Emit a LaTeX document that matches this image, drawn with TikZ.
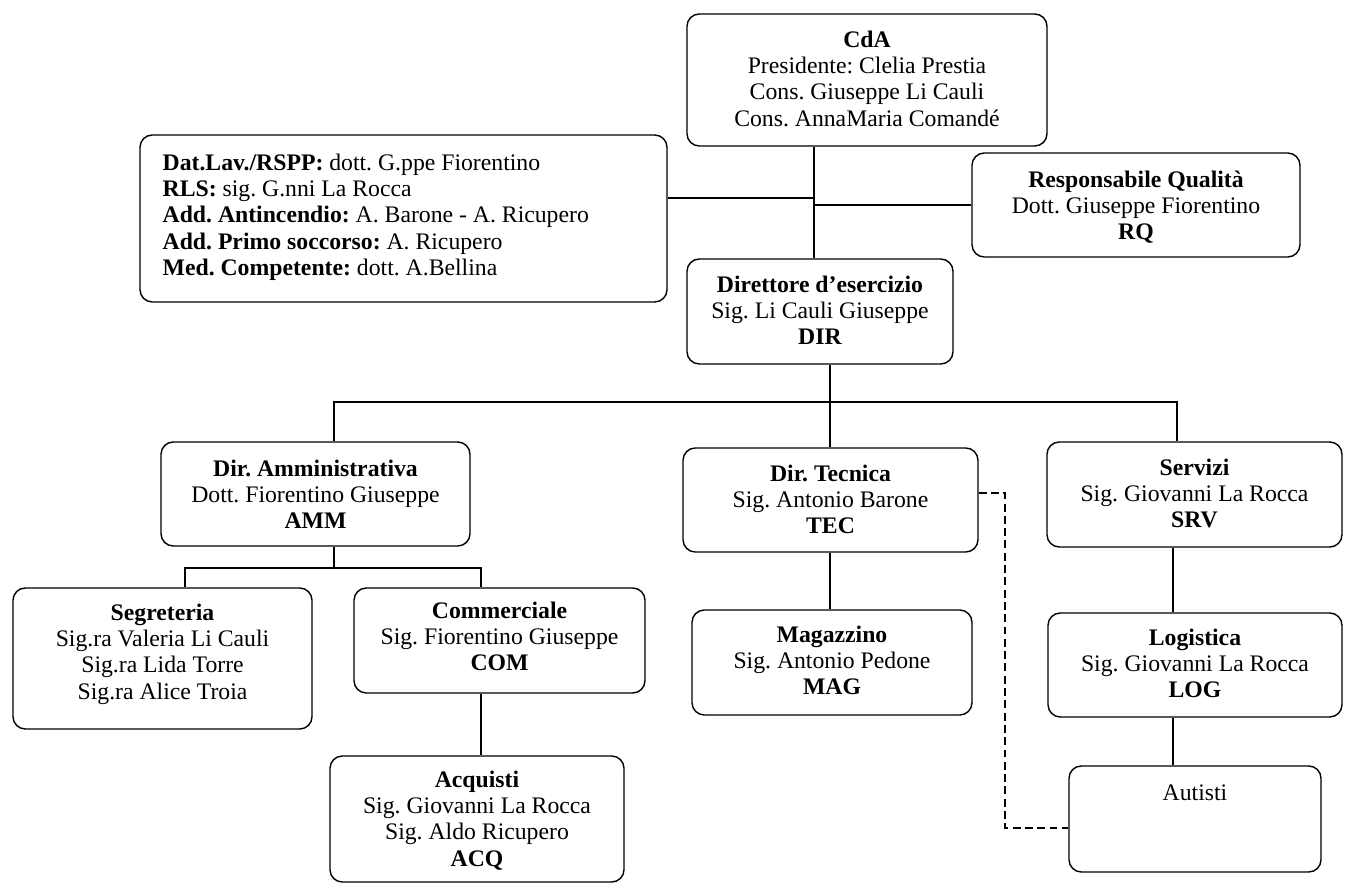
\documentclass[tikz,border=0pt]{standalone}
\usepackage{fontspec}
\setmainfont{Liberation Serif}
\usepackage{tikz}
\usetikzlibrary{positioning}
\usetikzlibrary{fit,calc}
\usepackage{xcolor}
\frenchspacing

\tikzset{
  box/.style={draw, rounded corners=7pt, line width=0.8pt, inner sep=0pt},
  txt/.style={align=center, inner sep=0pt, font=\fontsize{13.5}{15}\selectfont},
  link/.style={line width=0.8pt},
  dashlink/.style={line width=0.8pt, dash pattern=on 4.5pt off 2.5pt}
}

\begin{document}
\begin{tikzpicture}[x=0.02cm, y=-0.02cm]
\useasboundingbox (0,0) rectangle (1349,884);

\node[box, fit={(687,14) (1047,146)}](cda) {};
\node[box, fit={(140,135) (667,302)}](sfty) {};
\node[box, fit={(972,153) (1300,257)}](rq) {};
\node[box, fit={(687,259) (953,364)}](dir) {};
\node[box, fit={(161,442) (470,546)}](amm) {};
\node[box, fit={(683,448) (978,552)}](tec) {};
\node[box, fit={(1047,442) (1342,547)}](srv) {};
\node[box, fit={(13,588) (312,729)}](seg) {};
\node[box, fit={(354,588) (645,693)}](com) {};
\node[box, fit={(330,756) (624,882)}](acq) {};
\node[box, fit={(692,610) (972,715)}](mag) {};
\node[box, fit={(1048,613) (1342,717)}](log) {};
\node[box, fit={(1069,766) (1321,872)}](aut) {};

\node[txt, below=0.34cm of cda.north](cda-t) {\textbf{CdA}\\Presidente: Clelia Prestia\\Cons. Giuseppe Li Cauli\\Cons. AnnaMaria Comandé};
\node[txt, align=left, below right=0.38cm and 0.46cm of sfty.north west](sfty-t) {\textbf{Dat.Lav./RSPP:} dott. G.ppe Fiorentino\\\textbf{RLS:} sig. G.nni La Rocca\\\textbf{Add. Antincendio:} A. Barone - A. Ricupero\\\textbf{Add. Primo soccorso:} A. Ricupero\\\textbf{Med. Competente:} dott. A.Bellina};
\node[txt, below=0.36cm of rq.north](rq-t) {\textbf{Responsabile Qualità}\\Dott. Giuseppe Fiorentino\\\textbf{RQ}};
\node[txt, below=0.34cm of dir.north](dir-t) {\textbf{Direttore d’esercizio}\\Sig. Li Cauli Giuseppe\\\textbf{DIR}};
\node[txt, below=0.36cm of amm.north](amm-t) {\textbf{Dir. Amministrativa}\\Dott. Fiorentino Giuseppe\\\textbf{AMM}};
\node[txt, below=0.34cm of tec.north](tec-t) {\textbf{Dir. Tecnica}\\Sig. Antonio Barone\\\textbf{TEC}};
\node[txt, below=0.34cm of srv.north](srv-t) {\textbf{Servizi}\\Sig. Giovanni La Rocca\\\textbf{SRV}};
\node[txt, below=0.32cm of seg.north](seg-t) {\textbf{Segreteria}\\Sig.ra Valeria Li Cauli\\Sig.ra Lida Torre\\Sig.ra Alice Troia};
\node[txt, below=0.28cm of com.north](com-t) {\textbf{Commerciale}\\Sig. Fiorentino Giuseppe\\\textbf{COM}};
\node[txt, below=0.30cm of acq.north](acq-t) {\textbf{Acquisti}\\Sig. Giovanni La Rocca\\Sig. Aldo Ricupero\\\textbf{ACQ}};
\node[txt, below=0.32cm of mag.north](mag-t) {\textbf{Magazzino}\\Sig. Antonio Pedone\\\textbf{MAG}};
\node[txt, below=0.32cm of log.north](log-t) {\textbf{Logistica}\\Sig. Giovanni La Rocca\\\textbf{LOG}};
\node[txt, below=0.38cm of aut.north](aut-t) {Autisti};

\coordinate (spine) at (814,0);
\coordinate (jl) at (814,198);
\coordinate (jr) at (814,205);
\coordinate (bus) at (0,402);
\coordinate (sub) at (0,568);
\coordinate (ammx) at (334,0);
\coordinate (tecx) at (830,0);
\coordinate (srvx) at (1177,0);
\coordinate (segx) at (185,0);
\coordinate (comx) at (481,0);
\coordinate (logx) at (1173,0);
\coordinate (dsh) at (1005,493);
\coordinate (dend) at (0,828);

\draw[link] (cda.south -| spine) -- (dir.north -| spine);
\draw[link] (sfty.east |- jl) -- (jl);
\draw[link] (jr) -- (rq.west |- jr);
\draw[link] (dir.south -| tecx) -- (tec.north -| tecx);
\draw[link] (amm.north -| ammx) -- (bus -| ammx) -- (bus -| srvx) -- (srv.north -| srvx);
\draw[link] (amm.south -| ammx) -- (sub -| ammx);
\draw[link] (seg.north -| segx) -- (sub -| segx) -- (sub -| comx) -- (com.north -| comx);
\draw[link] (com.south -| comx) -- (acq.north -| comx);
\draw[link] (tec.south -| tecx) -- (mag.north -| tecx);
\draw[link] (srv.south -| logx) -- (log.north -| logx);
\draw[link] (log.south -| logx) -- (aut.north -| logx);
\draw[dashlink] (tec.east |- dsh) -- (dsh) |- (aut.west |- dend);
\end{tikzpicture}
\end{document}
